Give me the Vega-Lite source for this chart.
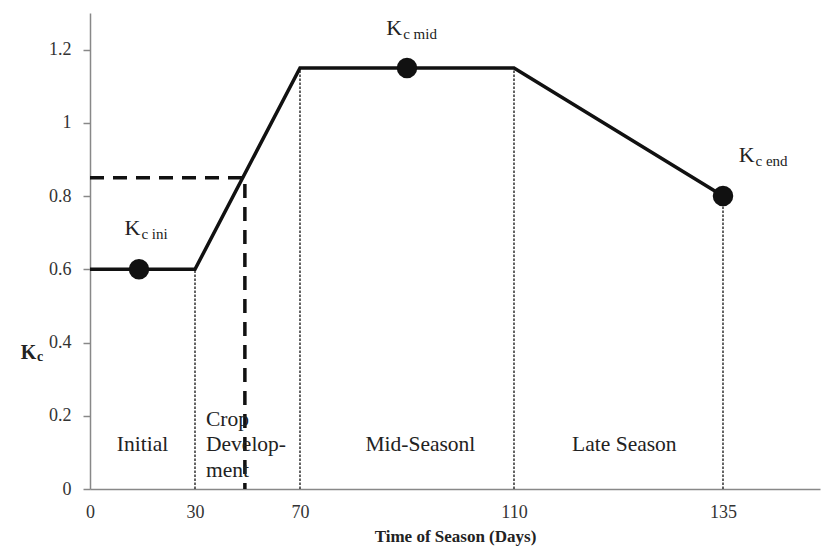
{
  "$schema": "https://vega.github.io/schema/vega-lite/v6.json",
  "width": 730,
  "height": 476,
  "autosize": {"type": "none"},
  "padding": {"left": 90, "top": 13, "right": 1, "bottom": 60},
  "background": "white",
  "config": {
    "view": {"stroke": null},
    "font": "Liberation Serif",
    "text": {"font": "Liberation Serif", "color": "#222"}
  },
  "datasets": {
    "kc": [
      {"x": 0, "y": 0.6},
      {"x": 30, "y": 0.6},
      {"x": 70, "y": 1.15},
      {"x": 110, "y": 1.15},
      {"x": 135, "y": 0.8}
    ],
    "dash": [
      {"x": 0, "y": 0.85, "o": 1},
      {"x": 49, "y": 0.85, "o": 2},
      {"x": 49, "y": 0, "o": 3}
    ],
    "rules": [
      {"x": 30, "y": 0, "y2": 0.6},
      {"x": 70, "y": 0, "y2": 1.15},
      {"x": 110, "y": 0, "y2": 1.15},
      {"x": 135, "y": 0, "y2": 0.8}
    ],
    "points": [
      {"x": 14, "y": 0.6},
      {"x": 90, "y": 1.15},
      {"x": 135, "y": 0.8}
    ],
    "stages": [
      {"x": 15, "y": 0.12, "t": "Initial"},
      {"x": 92.5, "y": 0.12, "t": "Mid-Seasonl"},
      {"x": 123.2, "y": 0.12, "t": "Late Season"}
    ],
    "crop": [
      {"x": 34.2, "y": 0.188, "t": "Crop"},
      {"x": 34.2, "y": 0.12, "t": "Develop-"},
      {"x": 34.2, "y": 0.049, "t": "ment"}
    ],
    "klabels": [
      {"x": 14.4, "y": 0.712, "main": "K", "sub": "c ini"},
      {"x": 89.1, "y": 1.26, "main": "K", "sub": "c mid"},
      {"x": 138.9, "y": 0.911, "main": "K", "sub": "c end"}
    ],
    "ysub": [
      {"x": 0, "y": 0.36, "t": "c"}
    ]
  },
  "encoding": {
    "x": {
      "field": "x",
      "type": "quantitative",
      "scale": {"type": "linear", "domain": [0, 30, 70, 110, 135, 147], "range": [0, 105, 210, 424, 633, 730], "nice": false, "zero": false},
      "axis": {
        "values": [0, 30, 70, 110, 135],
        "ticks": false,
        "grid": false,
        "domainColor": "#888",
        "domainWidth": 1.5,
        "labelFont": "Liberation Serif",
        "labelFontSize": 18,
        "labelColor": "#333",
        "labelPadding": 14,
        "labelFlush": false,
        "title": "Time of Season (Days)",
        "titleFont": "Liberation Serif",
        "titleFontSize": 17,
        "titleFontWeight": "bold",
        "titleColor": "#222",
        "titlePadding": 7
      }
    },
    "y": {
      "field": "y",
      "type": "quantitative",
      "scale": {"domain": [0, 1.3], "nice": false, "zero": true},
      "axis": {
        "values": [0, 0.2, 0.4, 0.6, 0.8, 1, 1.2],
        "format": "~g",
        "grid": false,
        "ticks": true,
        "tickSize": 7,
        "tickColor": "#888",
        "tickWidth": 1.5,
        "domainColor": "#888",
        "domainWidth": 1.5,
        "labelFont": "Liberation Serif",
        "labelFontSize": 18,
        "labelColor": "#333",
        "labelPadding": 12,
        "title": "K",
        "titleFont": "Liberation Serif",
        "titleFontSize": 20,
        "titleFontWeight": "bold",
        "titleColor": "#222",
        "titleAngle": 0,
        "titleX": -62,
        "titleY": 339,
        "titleAlign": "center",
        "titleBaseline": "middle"
      }
    }
  },
  "layer": [
    {
      "data": {"name": "rules"},
      "mark": {"type": "rule", "color": "#111", "strokeWidth": 1.3, "strokeDash": [2.5, 1.5]},
      "encoding": {"y2": {"field": "y2"}}
    },
    {
      "data": {"name": "dash"},
      "mark": {"type": "line", "color": "#111", "strokeWidth": 3.5, "strokeDash": [14, 9]},
      "encoding": {"order": {"field": "o", "type": "quantitative"}}
    },
    {
      "data": {"name": "kc"},
      "mark": {"type": "line", "color": "#111", "strokeWidth": 3.5}
    },
    {
      "data": {"name": "points"},
      "mark": {"type": "circle", "color": "#111", "opacity": 1, "size": 420}
    },
    {
      "data": {"name": "stages"},
      "mark": {"type": "text", "fontSize": 21.5, "align": "center", "baseline": "middle"},
      "encoding": {"text": {"field": "t"}}
    },
    {
      "data": {"name": "crop"},
      "mark": {"type": "text", "fontSize": 21.5, "align": "left", "baseline": "middle"},
      "encoding": {"text": {"field": "t"}}
    },
    {
      "data": {"name": "klabels"},
      "mark": {"type": "text", "fontSize": 22, "align": "right", "baseline": "middle"},
      "encoding": {"text": {"field": "main"}}
    },
    {
      "data": {"name": "klabels"},
      "mark": {"type": "text", "fontSize": 15, "align": "left", "baseline": "middle", "dx": 1, "dy": 6},
      "encoding": {"text": {"field": "sub"}}
    },
    {
      "data": {"name": "ysub"},
      "mark": {"type": "text", "fontSize": 14, "fontWeight": "bold", "align": "left", "baseline": "middle", "dx": -53, "dy": 0, "clip": false},
      "encoding": {"text": {"field": "t"}}
    }
  ]
}
